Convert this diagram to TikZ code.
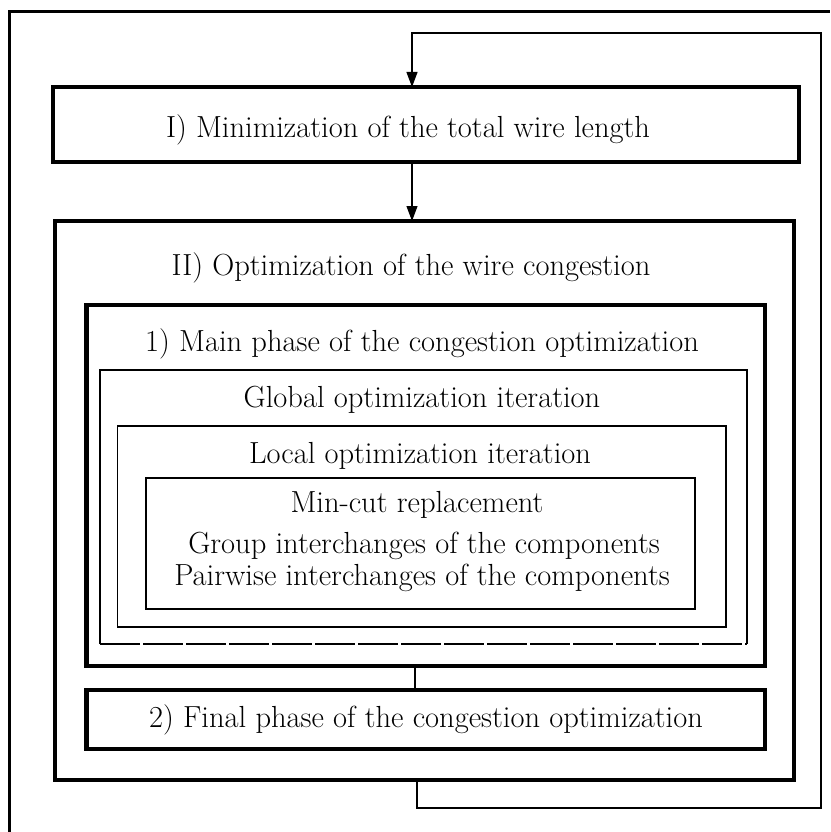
\documentclass[tikz,border=0pt]{standalone}
\usetikzlibrary{arrows.meta}
\begin{document}
\begin{tikzpicture}[x=1pt, y=-1pt, >={Triangle[length=15pt,width=11pt]},
    heavy/.style={draw, line width=4.5pt, inner sep=0pt, outer sep=0pt},
    light/.style={inner sep=0pt, outer sep=0pt},
    lbl/.style={font=\fontsize{30.5}{36}\selectfont, anchor=base, inner sep=0pt}]

    \useasboundingbox (0,0) rectangle (830,832);

    % Declare the frame
    \draw[line width=3pt] (9.5,832) -- (9.5,12) -- (830,12);

    % Declare the boxes
    \node[heavy, minimum width=746pt, minimum height=75pt] at (426,124.5) (I) {};
    \node[heavy, line width=3.5pt, minimum width=739pt, minimum height=559pt] at (424.5,500.5) (II) {};
    \node[heavy, minimum width=678.5pt, minimum height=361pt] at (425.75,485.5) (main) {};
    \node[light, minimum width=647pt, minimum height=274pt] at (423.5,507) (global) {};
    \node[draw, line width=1.4pt, light, minimum width=608.5pt, minimum height=201pt] at (421.75,526.5) (local) {};
    \node[draw, line width=1.3pt, light, minimum width=549pt, minimum height=131pt] at (420.5,543.5) (inner) {};
    \node[heavy, minimum width=678.5pt, minimum height=59pt] at (425.75,719.5) (final) {};

    % Declare the open box
    \draw[line width=1.5pt] (global.south west) -- (global.north west) -- (global.north east) -- (global.south east);
    \draw[line width=1.3pt, dash pattern=on 40pt off 3pt] (global.south west) -- (global.south east);

    % Declare the labels
    \node[lbl] at (408,137) (tI) {I) Minimization of the total wire length};
    \node[lbl] at (411,275) (tII) {II) Optimization of the wire congestion};
    \node[lbl] at (422,351) (tmain) {1) Main phase of the congestion optimization};
    \node[lbl] at (422,407) (tglobal) {Global optimization iteration};
    \node[lbl] at (420,463) (tlocal) {Local optimization iteration};
    \node[lbl] at (417,512) (tmincut) {Min-cut replacement};
    \node[lbl] at (424,553) (tgroup) {Group interchanges of the components};
    \node[lbl] at (422,585) (tpair) {Pairwise interchanges of the components};
    \node[lbl] at (426,727) (tfinal) {2) Final phase of the congestion optimization};

    % Declare edges
    \coordinate (entry) at (412,0);
    \coordinate (link) at (415,0);
    \coordinate (drop) at (417,0);
    \coordinate (loopBot) at (821,808);
    \coordinate (loopTop) at (821,33);
    \draw[->, line width=1.1pt] (I.south -| entry) -- (II.north -| entry);
    \draw[line width=1.1pt] (main.south -| link) -- (final.north -| link);
    \draw[->, line width=1.2pt] (II.south -| drop) -- (drop |- loopBot) -- (loopBot) -- (loopTop) -- (entry |- loopTop) -- (I.north -| entry);

\end{tikzpicture}
\end{document}
